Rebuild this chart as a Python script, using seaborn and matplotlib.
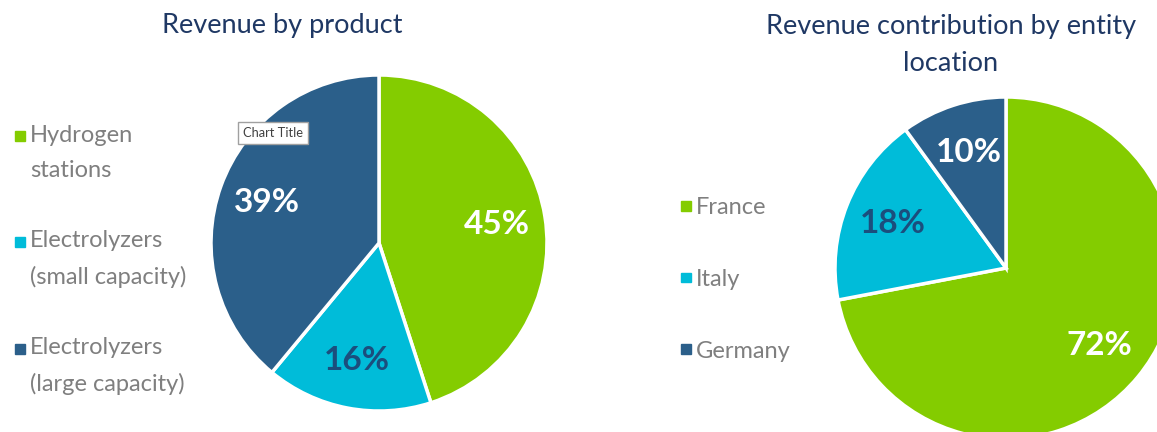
import matplotlib
matplotlib.use("Agg")
import matplotlib.pyplot as plt
from matplotlib.patches import Patch, Rectangle
from matplotlib.legend_handler import HandlerPatch
import seaborn as sns

# data
product_labels = ["Hydrogen\nstations", "Electrolyzers\n(small capacity)", "Electrolyzers\n(large capacity)"]
product_share = [45, 16, 39]
location_labels = ["France", "Italy", "Germany"]
location_share = [72, 18, 10]

colors = sns.color_palette(["#84CC00", "#00BCD9", "#2B5F8A"])
pct_colors = ["white", "#1B4E7D", "white"]
navy = "#1F3864"
grey = "#7F7F7F"

sns.set_theme(style="white")
plt.rcParams["font.family"] = ["Lato", "DejaVu Sans"]

W, H = 1157, 432
fig = plt.figure(figsize=(W / 100, H / 100), dpi=100)
ax = fig.add_axes([0, 0, 1, 1])


def draw_pie(values, center, radius):
    wedges, _, autotexts = ax.pie(
        values, colors=colors, startangle=90, counterclock=False,
        center=center, radius=radius, pctdistance=0.71,
        autopct=lambda p: f"{p:.0f}%",
        wedgeprops=dict(edgecolor="white", linewidth=2.5),
        textprops=dict(fontsize=24, fontweight="bold"))
    for t, c in zip(autotexts, pct_colors):
        t.set_color(c)
    return wedges


def square_handler(shift):
    # small square, centred on the handle box then pushed up by `shift` points
    def make(legend, orig_handle, xdescent, ydescent, width, height, fontsize):
        s = 0.42 * fontsize
        y = -ydescent + height / 2 - s / 2 + shift
        return Rectangle((-xdescent, y), s, s)
    return HandlerPatch(patch_func=make)


draw_pie(product_share, (379, H - 243), 168)
draw_pie(location_share, (1006, H - 268), 171)

ax.set_xlim(0, W)
ax.set_ylim(0, H)
ax.set_aspect("equal")
ax.axis("off")

##############################################################################
# legends
##############################################################################
handles = [Patch(color=c) for c in colors]

leg1 = ax.legend(handles, product_labels, loc="upper left",
                 bbox_to_anchor=(15, H - 125), bbox_transform=ax.transData,
                 frameon=False, fontsize=17, labelcolor=grey,
                 handlelength=0.5, handletextpad=0.15, borderpad=0,
                 borderaxespad=0, labelspacing=2.1,
                 handler_map={Patch: square_handler(12.5)})
for t in leg1.get_texts():
    t.set_linespacing(1.8)
ax.add_artist(leg1)

leg2 = ax.legend(handles, location_labels, loc="upper left",
                 bbox_to_anchor=(681, H - 197), bbox_transform=ax.transData,
                 frameon=False, fontsize=17, labelcolor=grey,
                 handlelength=0.5, handletextpad=0.15, borderpad=0,
                 borderaxespad=0, labelspacing=2.15,
                 handler_map={Patch: square_handler(0)})

##############################################################################
# titles
##############################################################################
ax.text(282, H - 26, "Revenue by product", ha="center", va="center",
        fontsize=19.5, color=navy)
ax.text(951, H - 45, "Revenue contribution by entity\nlocation", ha="center",
        va="center", fontsize=19.5, color=navy, linespacing=1.6)

# the little tooltip box left over in the screenshot
ax.text(273, H - 133, "Chart Title", ha="center", va="center", fontsize=9.3,
        color="#404040",
        bbox=dict(boxstyle="square,pad=0.35", fc="white", ec="#A0A0A0", lw=1))

fig.savefig("out.png", dpi=100)
